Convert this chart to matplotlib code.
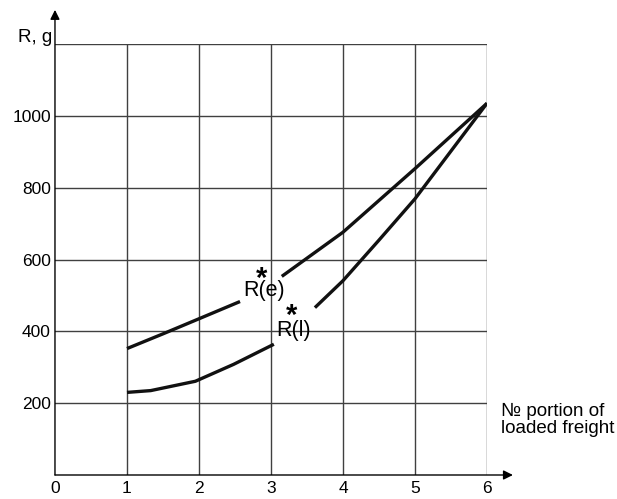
import matplotlib
matplotlib.use("Agg")
import matplotlib.pyplot as plt

plt.rcParams['font.family'] = ['Liberation Sans', 'DejaVu Sans']

# Data
x_ticks = [0, 1, 2, 3, 4, 5, 6]
y_ticks = [200, 400, 600, 800, 1000]
y_tick_labels = ["200", "400", "600", "800", "1000"]

re_x1 = [1, 1.5, 2, 2.57]
re_y1 = [352, 393, 435, 483]
re_x2 = [3.15, 4, 5, 6]
re_y2 = [553, 676, 853, 1035]

rl_x1 = [1, 1.33, 1.95, 2.48, 3.04]
rl_y1 = [230, 235, 261, 308, 364]
rl_x2 = [3.61, 4, 4.5, 5, 6]
rl_y2 = [466, 541, 654, 769, 1035]

fig = plt.figure(figsize=(6.17, 4.99), dpi=100)
ax = fig.add_axes([0.0891, 0.0481, 0.7002, 0.8637])
ax.set_xlim(0, 6)
ax.set_ylim(0, 1200)

for s in ax.spines.values():
    s.set_visible(False)

grid_kw = dict(color='#404040', lw=1.0, zorder=1)
for v in [200, 400, 600, 800, 1000, 1200]:
    ax.axhline(v, **grid_kw)
for v in [1, 2, 3, 4, 5, 6]:
    ax.axvline(v, **grid_kw)

ax.set_xticks(x_ticks)
ax.set_xticklabels([str(v) for v in x_ticks])
ax.set_yticks(y_ticks)
ax.set_yticklabels(y_tick_labels)
ax.tick_params(axis='both', length=0, labelsize=12.5, colors='black')
ax.tick_params(axis='x', pad=4)
ax.tick_params(axis='y', pad=3)

# Axes with arrows
ax.annotate('', xy=(6.36, 0), xytext=(0, 0), annotation_clip=False,
            arrowprops=dict(arrowstyle='-|>', color='black', lw=1.0,
                            mutation_scale=14, shrinkA=0, shrinkB=0))
ax.annotate('', xy=(0, 1295), xytext=(0, 0), annotation_clip=False,
            arrowprops=dict(arrowstyle='-|>', color='black', lw=1.0,
                            mutation_scale=14, shrinkA=0, shrinkB=0))

line_kw = dict(color='#111111', lw=2.4, solid_capstyle='butt', solid_joinstyle='round', zorder=3)
ax.plot(re_x1, re_y1, **line_kw)
ax.plot(re_x2, re_y2, **line_kw)
ax.plot(rl_x1, rl_y1, **line_kw)
ax.plot(rl_x2, rl_y2, **line_kw)

ax.text(2.90, 515, "R(e)", fontsize=15.5, ha='center', va='center', zorder=4)
ax.text(2.87, 545, "*", fontsize=21, fontweight='bold', ha='center', va='center', zorder=4)
ax.text(3.32, 402, "R(l)", fontsize=15.5, ha='center', va='center', zorder=4)
ax.text(3.29, 444, "*", fontsize=21, fontweight='bold', ha='center', va='center', zorder=4)

ax.text(-0.04, 1218, "R, g", fontsize=13.5, ha='right', va='center', clip_on=False)
ax.text(6.2, 202, "№ portion of\nloaded freight", fontsize=13.5, ha='left', va='top',
        linespacing=1.0, clip_on=False)

fig.savefig("out.png", dpi=100)
